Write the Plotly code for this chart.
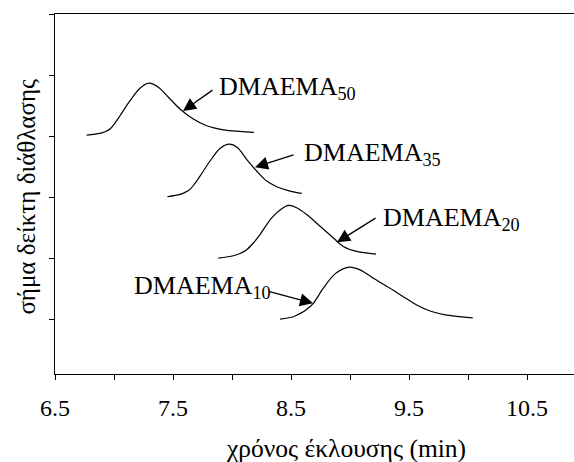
import plotly.graph_objects as go

# Chromatogram traces (elution time in min, offset RI signal)
x50 = [6.768, 6.881, 6.924, 6.966, 7.008, 7.051, 7.136, 7.220, 7.297, 7.376, 7.461, 7.559, 7.672, 7.785, 7.927, 8.068, 8.186]
y50 = [3.015, 3.043, 3.069, 3.114, 3.212, 3.333, 3.580, 3.784, 3.866, 3.800, 3.635, 3.443, 3.278, 3.168, 3.102, 3.075, 3.059]

x35 = [7.452, 7.559, 7.602, 7.644, 7.686, 7.729, 7.814, 7.898, 7.975, 8.045, 8.124, 8.209, 8.294, 8.379, 8.492, 8.591]
y35 = [2.005, 2.043, 2.076, 2.125, 2.224, 2.344, 2.591, 2.796, 2.867, 2.812, 2.619, 2.427, 2.262, 2.170, 2.098, 2.059]

x20 = [7.884, 8.011, 8.068, 8.124, 8.181, 8.237, 8.336, 8.421, 8.477, 8.548, 8.633, 8.746, 8.859, 8.943, 9.057, 9.220]
y20 = [1.000, 1.038, 1.076, 1.137, 1.247, 1.384, 1.659, 1.807, 1.862, 1.824, 1.713, 1.521, 1.329, 1.191, 1.109, 1.066]

x10 = [8.407, 8.520, 8.562, 8.604, 8.647, 8.689, 8.774, 8.873, 8.992, 9.085, 9.198, 9.339, 9.452, 9.565, 9.678, 9.820, 10.040]
y10 = [0.000, 0.038, 0.077, 0.120, 0.181, 0.259, 0.506, 0.741, 0.852, 0.807, 0.670, 0.506, 0.367, 0.231, 0.132, 0.066, 0.021]

labels = ["DMAEMA<sub>50</sub>", "DMAEMA<sub>35</sub>", "DMAEMA<sub>20</sub>", "DMAEMA<sub>10</sub>"]

x_tickvals = [6.5, 7.5, 8.5, 9.5, 10.5]
x_ticktext = ["6.5", "7.5", "8.5", "9.5", "10.5"]
x_minor_vals = [7.0, 8.0, 9.0, 10.0]
y_tickvals = [0, 1, 2, 3, 4, 5]

x_title = "χρόνος έκλουσης (min)"
y_title = "σήμα δείκτη διάθλασης"

FONT = "Liberation Serif"

fig = go.Figure()
for xs, ys in [(x50, y50), (x35, y35), (x20, y20), (x10, y10)]:
    fig.add_trace(go.Scatter(x=xs, y=ys, mode="lines",
                             line=dict(color="black", width=1.2, shape="spline", smoothing=0.9),
                             showlegend=False, hoverinfo="skip"))

# arrows: (tail x, tail y, head x, head y)
arrows = [
    (7.847, 3.77, 7.585, 3.41),
    (8.534, 2.70, 8.195, 2.49),
    (9.229, 1.67, 8.890, 1.26),
    (8.297, 0.46, 8.686, 0.26),
]
for tx, ty, hx, hy in arrows:
    fig.add_annotation(x=hx, y=hy, ax=tx, ay=ty, xref="x", yref="y", axref="x", ayref="y",
                       text="", showarrow=True, arrowhead=2, arrowsize=2.0, arrowwidth=1.3,
                       arrowcolor="black")

text_pos = [(7.870, 3.78), (8.595, 2.70), (9.265, 1.64), (7.150, 0.53)]
for (px, py), lab in zip(text_pos, labels):
    fig.add_annotation(x=px, y=py, xref="x", yref="y", text=lab, showarrow=False,
                       xanchor="left", yanchor="middle",
                       font=dict(family=FONT, size=26, color="black"))

# axis titles
fig.add_annotation(x=0.561, y=-0.208, xref="paper", yref="paper", text=x_title, showarrow=False,
                   xanchor="center", yanchor="middle", font=dict(family=FONT, size=25.5, color="black"))
fig.add_annotation(x=-0.055, y=0.494, xref="paper", yref="paper", text=y_title, showarrow=False,
                   textangle=-90, xanchor="center", yanchor="middle",
                   font=dict(family=FONT, size=25, color="black"))

fig.update_layout(
    width=574, height=462,
    margin=dict(l=55, r=0, t=14, b=88),
    paper_bgcolor="white", plot_bgcolor="white",
    font=dict(family=FONT, size=24, color="black"),
)
fig.update_xaxes(range=[6.5, 10.898], tickvals=x_tickvals, ticktext=x_ticktext,
                 ticks="outside", ticklen=5, tickwidth=1, tickcolor="black",
                 ticklabelstandoff=7,
                 minor=dict(tickvals=x_minor_vals, ticks="outside", ticklen=5, tickwidth=1,
                            tickcolor="black", showgrid=False),
                 showline=True, linecolor="black", linewidth=1, mirror=True,
                 showgrid=False, zeroline=False,
                 tickfont=dict(family=FONT, size=24))
fig.update_yaxes(range=[-0.9, 5.0], tickvals=y_tickvals, showticklabels=False,
                 ticks="outside", ticklen=5, tickwidth=1, tickcolor="black",
                 showline=True, linecolor="black", linewidth=1,
                 showgrid=False, zeroline=False)

fig.write_html("out.html")
